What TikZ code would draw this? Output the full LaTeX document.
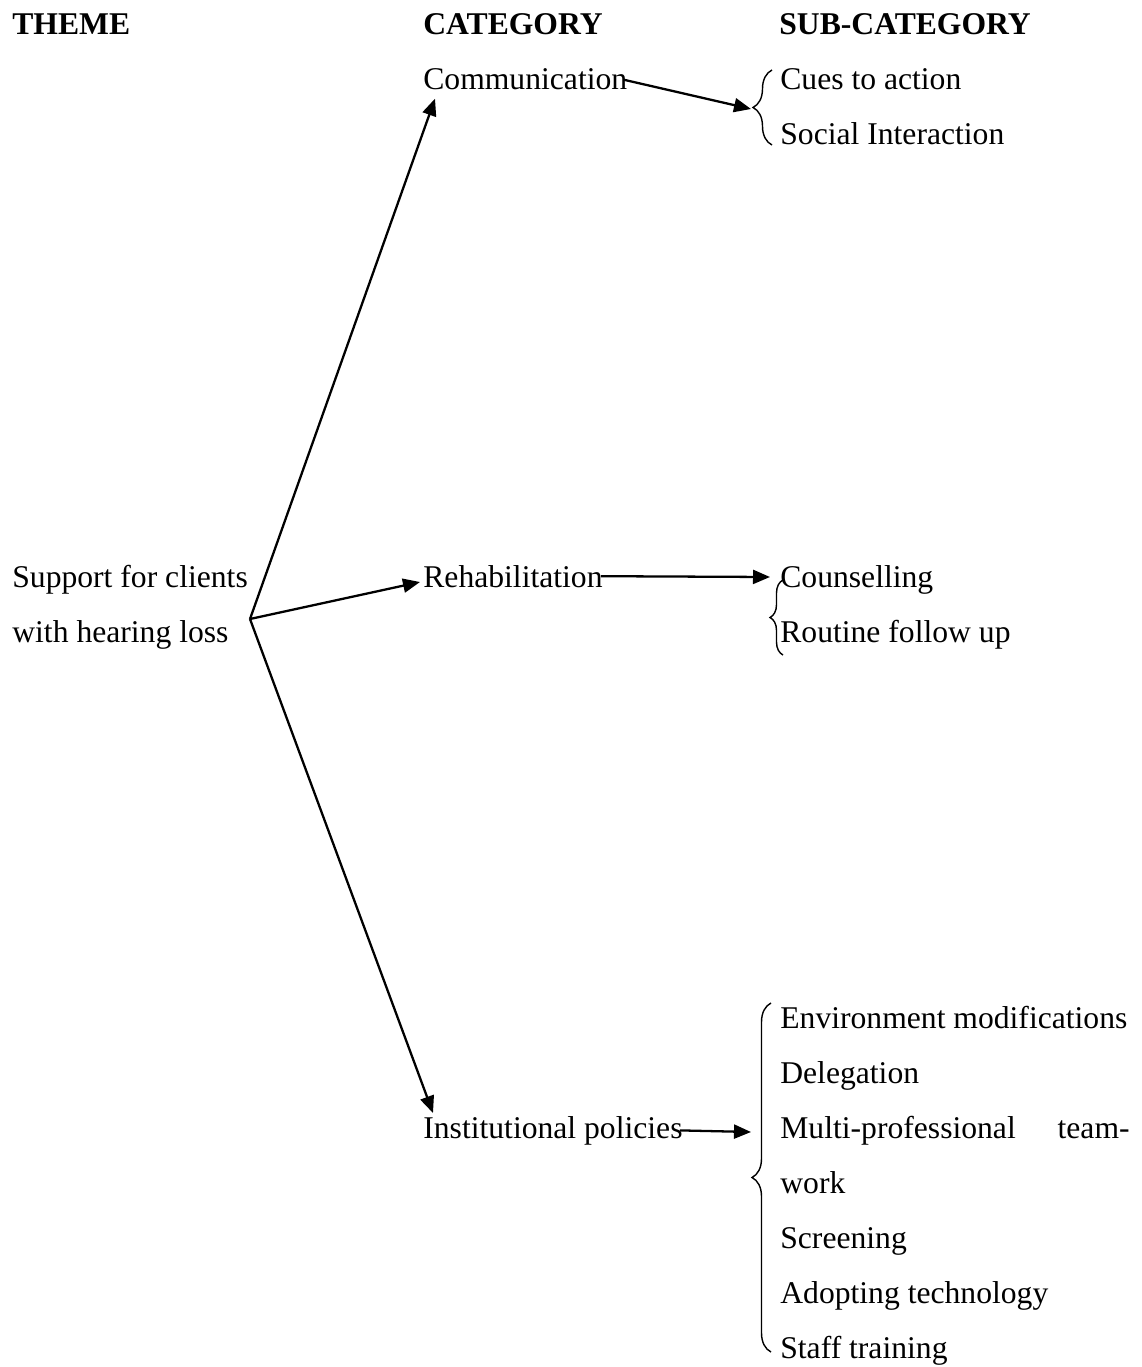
\documentclass[tikz,border=0pt]{standalone}
\usepackage{fontspec}
\setmainfont{Liberation Serif}
\usetikzlibrary{arrows.meta,decorations.pathreplacing}

\begin{document}
\begin{tikzpicture}[x=1cm,y=1cm]
\tikzset{
  txt/.style={anchor=base west,inner sep=0pt,font=\fontsize{18}{22}\selectfont},
  head/.style={txt,font=\fontsize{18}{22}\selectfont\bfseries},
  arrowline/.style={-{Triangle[length=3.4mm,width=2.8mm]},line width=1.3pt},
  bracket/.style={decorate,decoration={brace,amplitude=#1},line width=0.8pt},
  bracket/.default=0.38cm
}
\useasboundingbox (0,0) rectangle (22.84,-27.34);
% column heads
\node[head] (h_theme) at (0.24,-0.70) {THEME};
\node[head] (h_cat) at (8.46,-0.70) {CATEGORY};
\node[head] (h_sub) at (15.58,-0.70) {SUB-CATEGORY};
% theme
\node[txt] (n_theme1) at (0.24,-11.74) {Support for clients};
\node[txt] (n_theme2) at (0.24,-12.84) {with hearing loss};
\coordinate (apex) at (5.00,-12.38);
% categories
\node[txt] (n_comm) at (8.46,-1.80) {Communication};
\node[txt] (n_rehab) at (8.46,-11.74) {Rehabilitation};
\node[txt] (n_inst) at (8.46,-22.76) {Institutional policies};
% sub-categories
\node[txt] (s_cues) at (15.60,-1.80) {Cues to action};
\node[txt] (s_social) at (15.60,-2.90) {Social Interaction};
\node[txt] (s_couns) at (15.60,-11.74) {Counselling};
\node[txt] (s_routine) at (15.60,-12.84) {Routine follow up};
\node[txt] (s_env) at (15.60,-20.56) {Environment modifications};
\node[txt] (s_deleg) at (15.60,-21.66) {Delegation};
\node[txt] (s_multi) at (15.60,-22.76) {Multi-professional};
\node[txt,anchor=base east] (s_team) at (22.60,-22.76) {team-};
\node[txt] (s_work) at (15.60,-23.86) {work};
\node[txt] (s_screen) at (15.60,-24.96) {Screening};
\node[txt] (s_adopt) at (15.60,-26.06) {Adopting technology};
\node[txt] (s_staff) at (15.60,-27.16) {Staff training};
% braces
\draw[bracket] (15.44,-2.90) -- (15.44,-1.40);
\coordinate (b_comm) at (15.02,-2.18);
\draw[bracket=0.26cm] (15.66,-13.10) -- (15.66,-11.60);
\coordinate (b_rehab) at (15.40,-11.54);
\draw[bracket] (15.42,-27.04) -- (15.42,-20.06);
\coordinate (b_inst) at (15.02,-22.64);
% arrows
\draw[arrowline] (apex) -- ([shift={(0.24,-0.16)}]n_comm.south west);
\draw[arrowline] (apex) -- ([shift={(-0.06,0.10)}]n_rehab.base west);
\draw[arrowline] (apex) -- ([shift={(0.20,0.50)}]n_inst.base west);
\draw[arrowline] ([xshift=-0.08cm]n_comm.east) -- (b_comm);
\draw[arrowline] ([xshift=-0.04cm]n_rehab.east) -- (b_rehab);
\draw[arrowline] ([xshift=-0.06cm]n_inst.east) -- (b_inst);
\end{tikzpicture}
\end{document}
